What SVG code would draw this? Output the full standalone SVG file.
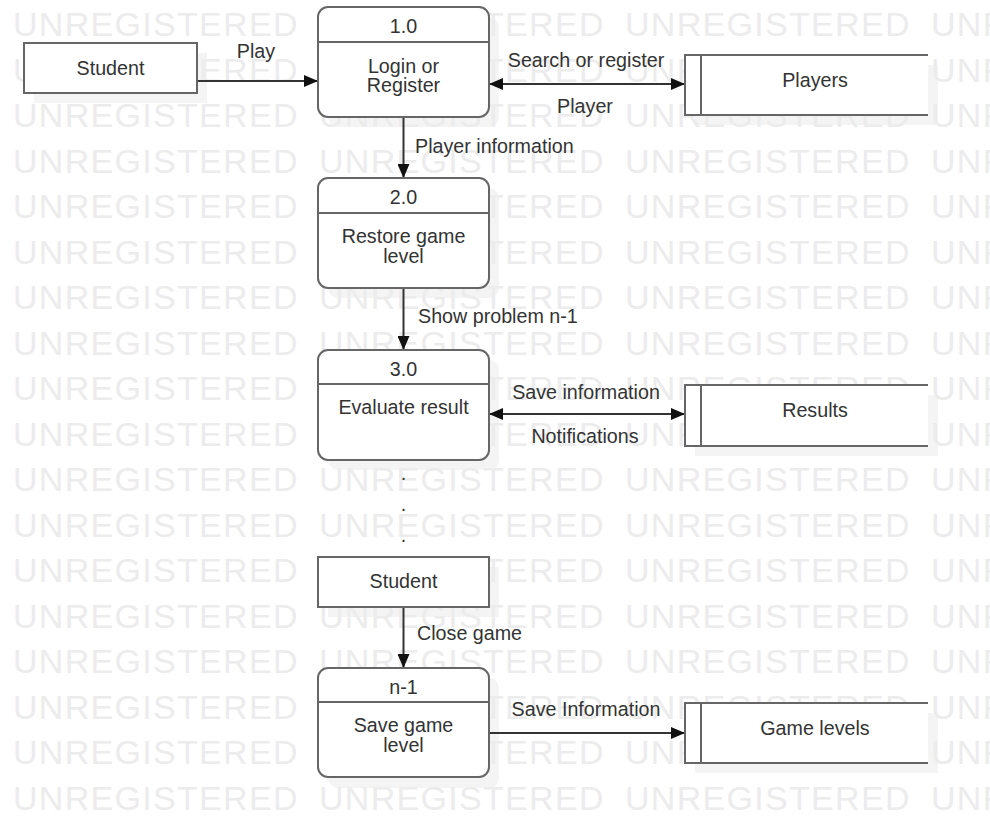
<svg xmlns="http://www.w3.org/2000/svg" width="990" height="820" viewBox="0 0 990 820">
<defs>
<style>
.wm{font-family:"Liberation Sans",Arial,sans-serif;font-size:34px;fill:#ececec;letter-spacing:1.3px}
.t{font-family:"Liberation Sans",Arial,sans-serif;font-size:19.7px;fill:#333}
.c{text-anchor:middle}
.box{fill:#fff;stroke:#666;stroke-width:2}
.sh{fill:#f4f4f4}
.div{stroke:#666;stroke-width:2}
.st{fill:none;stroke:#666;stroke-width:2}
.ln{fill:none;stroke:#333;stroke-width:2}
</style>
<marker id="ah" viewBox="0 0 14 12" refX="14" refY="6" markerWidth="14" markerHeight="12" markerUnits="userSpaceOnUse" orient="auto-start-reverse">
<path d="M0,0 L14,6 L0,12 z" fill="#111"/>
</marker>
</defs>
<rect width="990" height="820" fill="#fff"/>
<g id="shadows">
<rect class="sh" x="34" y="53" width="173" height="50"/>
<rect class="sh" x="328" y="17" width="171" height="110" rx="10"/>
<rect class="sh" x="695" y="65" width="243" height="60"/>
<rect class="sh" x="328" y="188" width="171" height="110" rx="10"/>
<rect class="sh" x="328" y="360" width="171" height="110" rx="10"/>
<rect class="sh" x="695" y="395" width="243" height="61"/>
<rect class="sh" x="328" y="567" width="171" height="50"/>
<rect class="sh" x="328" y="678" width="171" height="110" rx="10"/>
<rect class="sh" x="695" y="713" width="243" height="60"/>
</g>
<g id="watermark">
<text class="wm" y="36"><tspan x="13">UNREGISTERED</tspan><tspan x="319">UNREGISTERED</tspan><tspan x="625">UNREGISTERED</tspan><tspan x="931">UNREGISTERED</tspan></text>
<text class="wm" y="81.5"><tspan x="13">UNREGISTERED</tspan><tspan x="319">UNREGISTERED</tspan><tspan x="625">UNREGISTERED</tspan><tspan x="931">UNREGISTERED</tspan></text>
<text class="wm" y="127"><tspan x="13">UNREGISTERED</tspan><tspan x="319">UNREGISTERED</tspan><tspan x="625">UNREGISTERED</tspan><tspan x="931">UNREGISTERED</tspan></text>
<text class="wm" y="172.5"><tspan x="13">UNREGISTERED</tspan><tspan x="319">UNREGISTERED</tspan><tspan x="625">UNREGISTERED</tspan><tspan x="931">UNREGISTERED</tspan></text>
<text class="wm" y="218"><tspan x="13">UNREGISTERED</tspan><tspan x="319">UNREGISTERED</tspan><tspan x="625">UNREGISTERED</tspan><tspan x="931">UNREGISTERED</tspan></text>
<text class="wm" y="263.5"><tspan x="13">UNREGISTERED</tspan><tspan x="319">UNREGISTERED</tspan><tspan x="625">UNREGISTERED</tspan><tspan x="931">UNREGISTERED</tspan></text>
<text class="wm" y="309"><tspan x="13">UNREGISTERED</tspan><tspan x="319">UNREGISTERED</tspan><tspan x="625">UNREGISTERED</tspan><tspan x="931">UNREGISTERED</tspan></text>
<text class="wm" y="354.5"><tspan x="13">UNREGISTERED</tspan><tspan x="319">UNREGISTERED</tspan><tspan x="625">UNREGISTERED</tspan><tspan x="931">UNREGISTERED</tspan></text>
<text class="wm" y="400"><tspan x="13">UNREGISTERED</tspan><tspan x="319">UNREGISTERED</tspan><tspan x="625">UNREGISTERED</tspan><tspan x="931">UNREGISTERED</tspan></text>
<text class="wm" y="445.5"><tspan x="13">UNREGISTERED</tspan><tspan x="319">UNREGISTERED</tspan><tspan x="625">UNREGISTERED</tspan><tspan x="931">UNREGISTERED</tspan></text>
<text class="wm" y="491"><tspan x="13">UNREGISTERED</tspan><tspan x="319">UNREGISTERED</tspan><tspan x="625">UNREGISTERED</tspan><tspan x="931">UNREGISTERED</tspan></text>
<text class="wm" y="536.5"><tspan x="13">UNREGISTERED</tspan><tspan x="319">UNREGISTERED</tspan><tspan x="625">UNREGISTERED</tspan><tspan x="931">UNREGISTERED</tspan></text>
<text class="wm" y="582"><tspan x="13">UNREGISTERED</tspan><tspan x="319">UNREGISTERED</tspan><tspan x="625">UNREGISTERED</tspan><tspan x="931">UNREGISTERED</tspan></text>
<text class="wm" y="627.5"><tspan x="13">UNREGISTERED</tspan><tspan x="319">UNREGISTERED</tspan><tspan x="625">UNREGISTERED</tspan><tspan x="931">UNREGISTERED</tspan></text>
<text class="wm" y="673"><tspan x="13">UNREGISTERED</tspan><tspan x="319">UNREGISTERED</tspan><tspan x="625">UNREGISTERED</tspan><tspan x="931">UNREGISTERED</tspan></text>
<text class="wm" y="718.5"><tspan x="13">UNREGISTERED</tspan><tspan x="319">UNREGISTERED</tspan><tspan x="625">UNREGISTERED</tspan><tspan x="931">UNREGISTERED</tspan></text>
<text class="wm" y="764"><tspan x="13">UNREGISTERED</tspan><tspan x="319">UNREGISTERED</tspan><tspan x="625">UNREGISTERED</tspan><tspan x="931">UNREGISTERED</tspan></text>
<text class="wm" y="809.5"><tspan x="13">UNREGISTERED</tspan><tspan x="319">UNREGISTERED</tspan><tspan x="625">UNREGISTERED</tspan><tspan x="931">UNREGISTERED</tspan></text>
</g>
<g id="connectors">
<line class="ln" x1="197" y1="81" x2="318" y2="81" marker-end="url(#ah)"/>
<text class="t c" x="256" y="58">Play</text>
<line class="ln" x1="489" y1="84" x2="685" y2="84" marker-start="url(#ah)" marker-end="url(#ah)"/>
<text class="t c" x="586" y="67">Search or register</text>
<text class="t c" x="585" y="113">Player</text>
<line class="ln" x1="403.5" y1="117" x2="403.5" y2="178" marker-end="url(#ah)"/>
<text class="t" x="415" y="153">Player information</text>
<line class="ln" x1="403.5" y1="288" x2="403.5" y2="350" marker-end="url(#ah)"/>
<text class="t" x="418" y="323">Show problem n-1</text>
<line class="ln" x1="489" y1="414" x2="685" y2="414" marker-start="url(#ah)" marker-end="url(#ah)"/>
<text class="t c" x="586" y="399">Save information</text>
<text class="t c" x="585" y="443">Notifications</text>
<text class="t c" x="403.5" y="480">.</text>
<text class="t c" x="403.5" y="511">.</text>
<text class="t c" x="403.5" y="542">.</text>
<line class="ln" x1="403.5" y1="607" x2="403.5" y2="668" marker-end="url(#ah)"/>
<text class="t" x="417" y="640">Close game</text>
<line class="ln" x1="489" y1="733" x2="685" y2="733" marker-end="url(#ah)"/>
<text class="t c" x="586" y="716">Save Information</text>
</g>
<g id="student-top">
<rect class="box" x="24" y="43" width="173" height="50"/>
<text class="t c" x="110.5" y="75">Student</text>
</g>
<g id="p1">
<rect class="box" x="318" y="7" width="171" height="110" rx="10"/>
<line class="div" x1="318" y1="42" x2="489" y2="42"/>
<text class="t c" x="403.5" y="33">1.0</text>
<text class="t c" x="403.5" y="72.5">Login or</text>
<text class="t c" x="403.5" y="92">Register</text>
</g>
<g id="players">
<rect x="685" y="55" width="243" height="60" fill="#fff"/>
<path class="st" d="M928,55 H685 V115 H928 M701,55 V115"/>
<text class="t c" x="815" y="87">Players</text>
</g>
<g id="p2">
<rect class="box" x="318" y="178" width="171" height="110" rx="10"/>
<line class="div" x1="318" y1="213" x2="489" y2="213"/>
<text class="t c" x="403.5" y="204">2.0</text>
<text class="t c" x="403.5" y="243">Restore game</text>
<text class="t c" x="403.5" y="262.5">level</text>
</g>
<g id="p3">
<rect class="box" x="318" y="350" width="171" height="110" rx="10"/>
<line class="div" x1="318" y1="384" x2="489" y2="384"/>
<text class="t c" x="403.5" y="376">3.0</text>
<text class="t c" x="403.5" y="414">Evaluate result</text>
</g>
<g id="results">
<rect x="685" y="385" width="243" height="61" fill="#fff"/>
<path class="st" d="M928,385 H685 V446 H928 M701,385 V446"/>
<text class="t c" x="815" y="417">Results</text>
</g>
<g id="student-bottom">
<rect class="box" x="318" y="557" width="171" height="50"/>
<text class="t c" x="403.5" y="588">Student</text>
</g>
<g id="pn">
<rect class="box" x="318" y="668" width="171" height="109" rx="10"/>
<line class="div" x1="318" y1="702" x2="489" y2="702"/>
<text class="t c" x="403.5" y="694">n-1</text>
<text class="t c" x="403.5" y="732">Save game</text>
<text class="t c" x="403.5" y="751.5">level</text>
</g>
<g id="game-levels">
<rect x="685" y="703" width="243" height="60" fill="#fff"/>
<path class="st" d="M928,703 H685 V763 H928 M701,703 V763"/>
<text class="t c" x="815" y="735">Game levels</text>
</g>
</svg>
